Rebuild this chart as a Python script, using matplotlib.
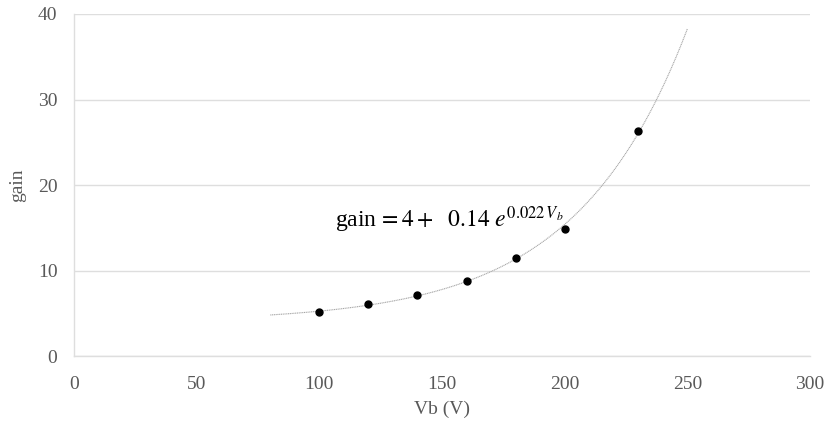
import numpy as np
import matplotlib.pyplot as plt

plt.rcParams['font.family'] = ['Liberation Serif', 'DejaVu Serif']
plt.rcParams['mathtext.fontset'] = 'stix'

# measured points
vb = [100, 120, 140, 160, 180, 200, 230]
gain = [5.2, 6.15, 7.1, 8.8, 11.5, 14.9, 26.3]

# exponential trendline: gain = a + b*exp(c*Vb)
fit_a, fit_b, fit_c = 4.0, 0.14, 0.022
fit_range = [80, 250]

xticks = [0, 50, 100, 150, 200, 250, 300]
yticks = [0, 10, 20, 30, 40]

fig = plt.figure(figsize=(8.28, 4.24), dpi=100)
ax = fig.add_axes([0.0894, 0.160, 0.8889, 0.807])

xf = np.linspace(fit_range[0], fit_range[1], 300)
ax.plot(xf, fit_a + fit_b * np.exp(fit_c * xf), color='#a6a6a6',
        linestyle=(0, (1, 0.6)), linewidth=0.8, zorder=2)
ax.plot(vb, gain, 'o', color='black', markersize=5, zorder=3)

ax.text(106.5, 15.9, r'gain$\,=4+\ \ 0.14\ e^{0.022\,V_b}$', fontsize=17,
        va='center', ha='left', color='black')

ax.set_xlim(0, 300)
ax.set_ylim(0, 40)
ax.set_xticks(xticks)
ax.set_yticks(yticks)
ax.grid(axis='y', color='#dedede', linewidth=1)
ax.set_axisbelow(True)
for s in ['top', 'right']:
    ax.spines[s].set_visible(False)
for s in ['left', 'bottom']:
    ax.spines[s].set_color('#dedede')
    ax.spines[s].set_linewidth(1)
ax.tick_params(length=0, labelsize=14, colors='#595959', pad=12)
ax.tick_params(axis='x', pad=14)
ax.set_xlabel('Vb (V)', fontsize=14, color='#595959', labelpad=6)
ax.set_ylabel('gain', fontsize=14, color='#595959', labelpad=8)

fig.savefig('out.png', dpi=100)
